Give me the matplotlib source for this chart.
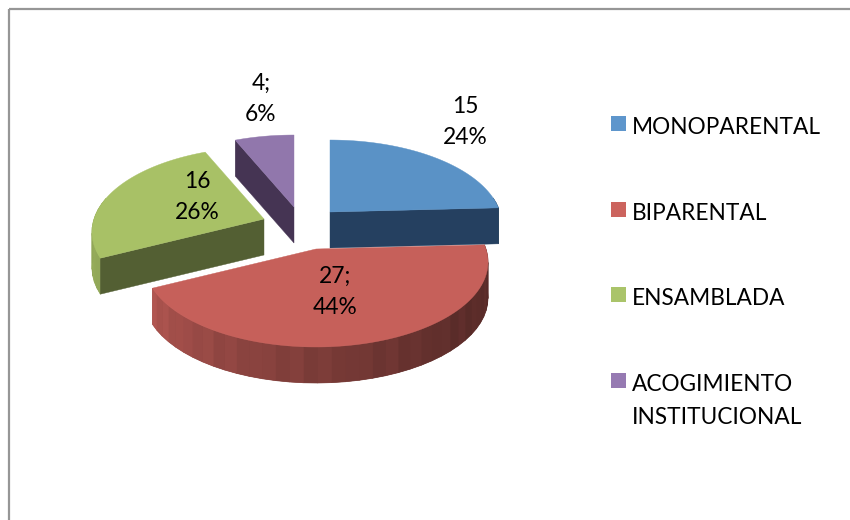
import numpy as np
import matplotlib
matplotlib.use("Agg")
import matplotlib.pyplot as plt
from matplotlib.patches import Polygon, Rectangle

plt.rcParams["font.family"] = ["Lato", "DejaVu Sans"]

categories = ["MONOPARENTAL", "BIPARENTAL", "ENSAMBLADA", "ACOGIMIENTO\nINSTITUCIONAL"]
values = [15, 27, 16, 4]
data_labels = ["15\n24%", "27;\n44%", "16\n26%", "4;\n6%"]

top_colors = ["#5A92C6", "#C6605A", "#A8C166", "#9177AC"]
cut_colors = ["#254060", "#5C2A27", "#535F33", "#453453"]
legend_colors = ["#5E96CC", "#CC645E", "#AAC46A", "#967AB2"]

# pixel positions of each slice's tip after the explosion, and of its label
tips = [(330, 212), (316, 249), (264, 219), (294, 207)]
label_pos = [(465, 122), (335, 292), (197, 197), (261, 99)]
legend_y = [125, 211, 296, 382]

RADIUS = 170
TILT = 83
PERSPECTIVE = 0.153
DEPTH = 36
RIM_FROM, RIM_TO = 80, 285  # part of the disc edge that faces the viewer


def project(angle, tip):
    # angle in degrees, clockwise from the back of the disc
    t = np.radians(angle)
    x = np.sin(t)
    y = -np.cos(t)
    w = 1 - PERSPECTIVE * y
    return np.column_stack([tip[0] + RADIUS * x / w, tip[1] + TILT * y / w])


def rim_color(angle, base):
    # darker towards the right of the front, with the faint bands of the original
    shade = 0.46 + 0.42 * np.clip((angle - 125) / 115, 0, 1) ** 1.2
    shade += 0.02 * np.sin(angle * 0.9)
    return tuple(np.clip(np.array(matplotlib.colors.to_rgb(base)) * shade, 0, 1))


fig = plt.figure(figsize=(8.5, 5.2), dpi=100)
ax = fig.add_axes([0, 0, 1, 1])
ax.set_xlim(0, 850)
ax.set_ylim(520, 0)
ax.axis("off")

# chart frame, runs off the right and bottom of the picture
ax.add_patch(Rectangle((9.5, 8.5), 900, 600, fill=False, ec="#969696", lw=1.6))

edges = np.cumsum([0] + values) / sum(values) * 360
draw_order = [3, 2, 0, 1]
for i in draw_order:
    start, end = edges[i], edges[i + 1]
    tip = tips[i]
    down = np.array([0, DEPTH])
    z = draw_order.index(i)

    # outer rim, only where it faces the viewer
    rim_start, rim_end = max(start, RIM_FROM), min(end, RIM_TO)
    if rim_end > rim_start:
        steps = np.linspace(rim_start, rim_end, max(int(rim_end - rim_start) // 4, 2) + 1)
        arc = project(steps, tip)
        c = rim_color(0.5 * (rim_start + rim_end), top_colors[i])
        ax.add_patch(Polygon(np.vstack([arc, arc[::-1] + down]), fc=c, ec="none", zorder=2 + z))
        for j in range(len(steps) - 1):
            quad = np.vstack([arc[j:j + 2], arc[j:j + 2][::-1] + down])
            c = rim_color(steps[j], top_colors[i])
            ax.add_patch(Polygon(quad, fc=c, ec=c, lw=0.5, zorder=2 + z))

    # cut face towards the viewer
    cut_edge = {0: end, 2: start, 3: start}.get(i)
    if cut_edge is not None:
        outer = project(np.array([cut_edge]), tip)[0]
        quad = [tip, outer, outer + down, np.array(tip) + down]
        ax.add_patch(Polygon(quad, fc=cut_colors[i], ec=cut_colors[i], lw=0.3, zorder=2.1 + z))

    # top face
    top = np.vstack([[tip], project(np.linspace(start, end, 181), tip)])
    ax.add_patch(Polygon(top, fc=top_colors[i], ec=top_colors[i], lw=0.3, zorder=2.2 + z))

for lab, (x, y) in zip(data_labels, label_pos):
    ax.text(x, y, lab, ha="center", va="center", fontsize=16.4, color="black",
            linespacing=1.56, zorder=10)

# legend
for name, col, y in zip(categories, legend_colors, legend_y):
    ax.add_patch(Rectangle((611, y - 9), 15, 15, fc=col, ec="none"))
    ax.text(632, y - 8, name, ha="left", va="top", fontsize=16.3, color="black",
            linespacing=1.72)

fig.savefig("out.png", dpi=100)
